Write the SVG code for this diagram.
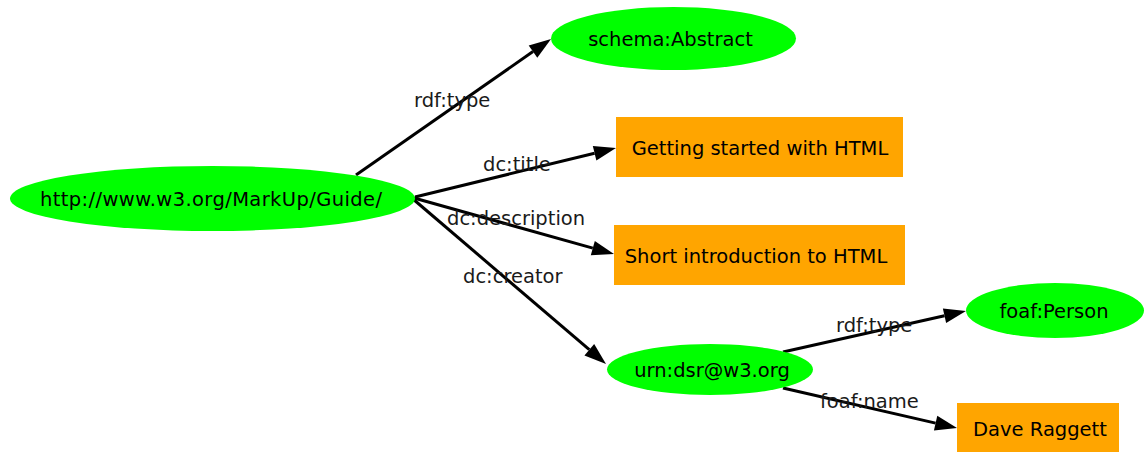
<svg xmlns="http://www.w3.org/2000/svg" width="1145" height="452" viewBox="0 0 1145 452">
  <defs>
    <style>
      .res { fill: #00ff00; stroke: none; }
      .lit { fill: #ffa500; stroke: none; }
      .nl { font-family: "DejaVu Sans", "Liberation Sans", sans-serif; font-size: 19.5px; fill: #000; text-anchor: middle; }
      .el { font-family: "DejaVu Sans", "Liberation Sans", sans-serif; font-size: 19.5px; fill: #1a1a1a; }
      .edge { stroke: #000; stroke-width: 3; fill: none; marker-end: url(#arrow); }
    </style>
    <marker id="arrow" markerUnits="userSpaceOnUse" markerWidth="24" markerHeight="18" refX="0" refY="0" orient="auto" overflow="visible">
      <path d="M0,-7.5 L22,0 L0,7.5 Z" fill="#000"/>
    </marker>
  </defs>
  <rect width="1145" height="452" fill="#fff"/>

  <!-- connectors, with their predicate labels -->
  <g id="connectors">
    <line class="edge" x1="356" y1="175" x2="533.0" y2="51.6"/>
    <line class="edge" x1="415" y1="197" x2="594.6" y2="153.2"/>
    <line class="edge" x1="414" y1="198" x2="592.8" y2="248.1"/>
    <line class="edge" x1="413" y1="199" x2="589.3" y2="349.7"/>
    <line class="edge" x1="783" y1="352" x2="944.5" y2="315.8"/>
    <line class="edge" x1="783" y1="388" x2="935.6" y2="423.1"/>
    <text class="el" x="414" y="107">rdf:type</text>
    <text class="el" x="483" y="171">dc:title</text>
    <text class="el" x="447" y="225">dc:description</text>
    <text class="el" x="463" y="283">dc:creator</text>
    <text class="el" x="836" y="332">rdf:type</text>
    <text class="el" x="820" y="408">foaf:name</text>
  </g>

  <g id="guide">
    <ellipse class="res" cx="212.5" cy="198.5" rx="202.5" ry="32.5"/>
    <text class="nl" x="211" y="206" textLength="342" lengthAdjust="spacing">http://www.w3.org/MarkUp/Guide/</text>
  </g>
  <g id="abstract">
    <ellipse class="res" cx="673.5" cy="38.5" rx="122.5" ry="31.5"/>
    <text class="nl" x="670.5" y="45.5">schema:Abstract</text>
  </g>
  <g id="title">
    <rect class="lit" x="616" y="117" width="287" height="60"/>
    <text class="nl" x="760" y="155">Getting started with HTML</text>
  </g>
  <g id="description">
    <rect class="lit" x="614" y="225" width="291" height="60"/>
    <text class="nl" x="756" y="263">Short introduction to HTML</text>
  </g>
  <g id="creator">
    <ellipse class="res" cx="710" cy="369.5" rx="103" ry="25.5"/>
    <text class="nl" x="712" y="377">urn:dsr@w3.org</text>
  </g>
  <g id="person">
    <ellipse class="res" cx="1055" cy="310.5" rx="89" ry="27.5"/>
    <text class="nl" x="1054" y="318">foaf:Person</text>
  </g>
  <g id="name">
    <rect class="lit" x="957" y="403" width="162" height="49"/>
    <text class="nl" x="1040" y="436">Dave Raggett</text>
  </g>
</svg>
